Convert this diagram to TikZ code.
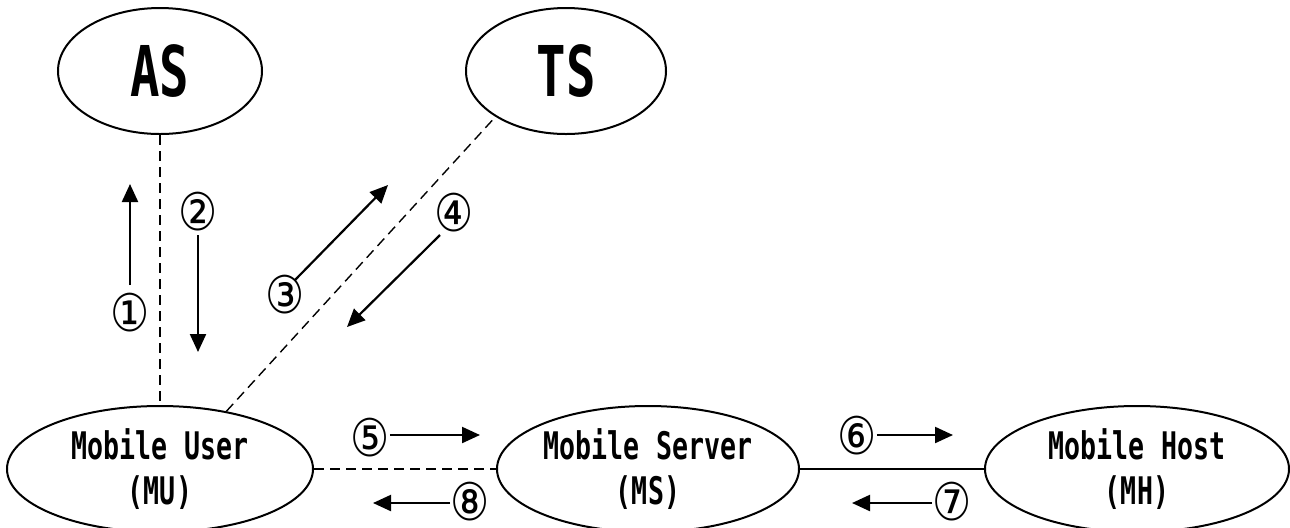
\documentclass[tikz,border=0pt]{standalone}
\usepackage{fontspec}
\usetikzlibrary{shapes.geometric,arrows.meta}
\newfontfamily\gfont[FakeStretch=0.70]{DejaVu Sans Mono}
\newfontfamily\cfont[FakeStretch=0.84]{DejaVu Sans}
\begin{document}
\begin{tikzpicture}[x=0.5pt,y=-0.5pt,
  station/.style={ellipse, draw, line width=1pt, inner sep=0pt, align=center, minimum height=63pt},
  big/.style={font=\gfont\bfseries\fontsize{35}{36}\selectfont},
  mid/.style={font=\gfont\bfseries\fontsize{19}{22.5}\selectfont},
  link/.style={line width=0.7pt, dash pattern=on 5pt off 3pt},
  wire/.style={line width=0.9pt},
  msg/.style={line width=1.1pt, -{Triangle[length=9pt,width=8pt]}},
  num/.style={font=\cfont\fontsize{26}{26}\selectfont, inner sep=0pt}
]
\useasboundingbox (0,0) rectangle (1290,527);

% stations
\node[station, big, minimum width=102pt] (AS) at (160,71) {AS};
\node[station, big, minimum width=100pt] (TS) at (566,71) {TS};
\node[station, mid, minimum width=153pt] (MU) at (160,469) {Mobile User\\(MU)};
\node[station, mid, minimum width=151pt] (MS) at (648,469) {Mobile Server\\(MS)};
\node[station, mid, minimum width=152pt] (MH) at (1137,469) {Mobile Host\\(MH)};

% links between stations
\draw[link] (AS.south) -- (MU.north);
\draw[link] (MU.41) -- (TS.213);
\draw[link] (MU.east) -- (MS.west);
\draw[wire] (MS.east) -- (MH.west);

% step labels
\node[num] (l1) at (130,313) {①};
\node[num] (l2) at (198,212) {②};
\node[num] (l3) at (285,295) {③};
\node[num] (l4) at (454,213) {④};
\node[num] (l5) at (370,438) {⑤};
\node[num] (l6) at (857,436) {⑥};
\node[num] (l7) at (952,502) {⑦};
\node[num] (l8) at (470,502) {⑧};

% message arrows
\coordinate (a1s) at (130,285); \coordinate (a1e) at (130,184);
\coordinate (a2s) at (198,235); \coordinate (a2e) at (198,352);
\coordinate (a3s) at (295,280); \coordinate (a3e) at (388,185);
\coordinate (a4s) at (440,235); \coordinate (a4e) at (347,327);
\coordinate (a5e) at (480,435);
\coordinate (a6e) at (953,435);
\coordinate (a7e) at (852,503);
\coordinate (a8e) at (373,503);
\draw[msg] (a1s) -- (a1e);
\draw[msg] (a2s) -- (a2e);
\draw[msg] (a3s) -- (a3e);
\draw[msg] (a4s) -- (a4e);
\draw[msg] (l5.east |- a5e) -- (a5e);
\draw[msg] (l6.east |- a6e) -- (a6e);
\draw[msg] (l7.west |- a7e) -- (a7e);
\draw[msg] (l8.west |- a8e) -- (a8e);
\end{tikzpicture}
\end{document}
